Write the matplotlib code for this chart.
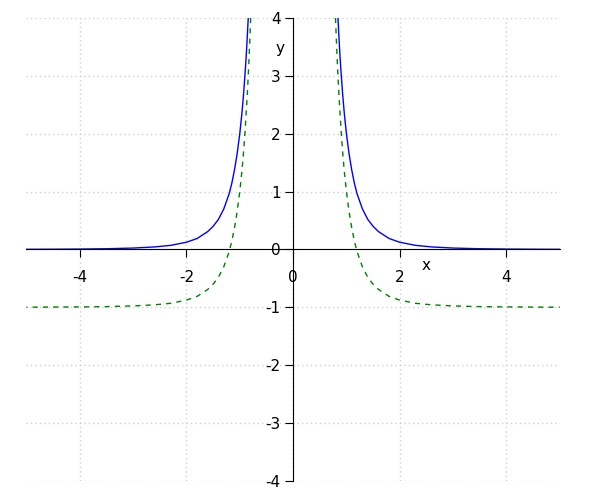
import matplotlib
matplotlib.use("Agg")
import matplotlib.pyplot as plt
import numpy as np

plt.rcParams["axes.unicode_minus"] = False

# points (curves are mirror images about x = 0)
blue_x = [0.841, 0.86, 0.88, 0.9, 0.93, 0.96, 1.0, 1.05, 1.1, 1.15, 1.2, 1.3,
          1.4, 1.5, 1.6, 1.8, 2.0, 2.3, 2.6, 3.0, 3.5, 4.0, 4.5, 5.0]
blue_y = [4.0, 3.66, 3.33, 3.05, 2.67, 2.35, 2.0, 1.65, 1.37, 1.14, 0.96, 0.70,
          0.52, 0.40, 0.31, 0.19, 0.125, 0.071, 0.044, 0.025, 0.013, 0.0078,
          0.0049, 0.0032]

green_x = [0.795, 0.81, 0.83, 0.86, 0.9, 0.93, 0.96, 1.0, 1.05, 1.1, 1.15, 1.2,
           1.3, 1.4, 1.5, 1.6, 1.8, 2.0, 2.3, 2.6, 3.0, 3.5, 4.0, 4.5, 5.0]
green_y = [4.0, 3.65, 3.21, 2.66, 2.05, 1.67, 1.35, 1.0, 0.65, 0.37, 0.14, -0.04,
           -0.30, -0.48, -0.60, -0.69, -0.81, -0.875, -0.93, -0.956, -0.975,
           -0.987, -0.992, -0.995, -0.997]

xticks = [-4, -2, 0, 2, 4]
yticks = [-4, -3, -2, -1, 0, 1, 2, 3, 4]

fig = plt.figure(figsize=(6, 5), dpi=100)
ax = fig.add_axes([0.044, 0.038, 0.889, 0.926])

bx = np.array(blue_x)
gx = np.array(green_x)
for sign in (-1, 1):
    ax.plot(sign * bx, blue_y, color="blue", lw=1)
    ax.plot(sign * gx, green_y, color="green", lw=1, dashes=(3.7, 3.7))

ax.set_xlim(-5, 5)
ax.set_ylim(-4, 4)
ax.set_xticks(xticks)
ax.set_yticks(yticks)
ax.grid(True, color="#d0d0d0", linestyle=(0, (1, 2.2)), lw=1)

ax.spines["left"].set_position(("data", 0))
ax.spines["bottom"].set_position(("data", 0))
ax.spines["top"].set_visible(False)
ax.spines["right"].set_visible(False)
ax.tick_params(axis="x", length=6, pad=9, labelsize=11)
ax.tick_params(axis="y", length=6, pad=3, labelsize=11)

ax.text(2.5, -0.27, "x", ha="center", va="center", fontsize=11)
ax.text(-0.25, 3.48, "y", ha="center", va="center", fontsize=11)

fig.savefig("out.png", dpi=100)
